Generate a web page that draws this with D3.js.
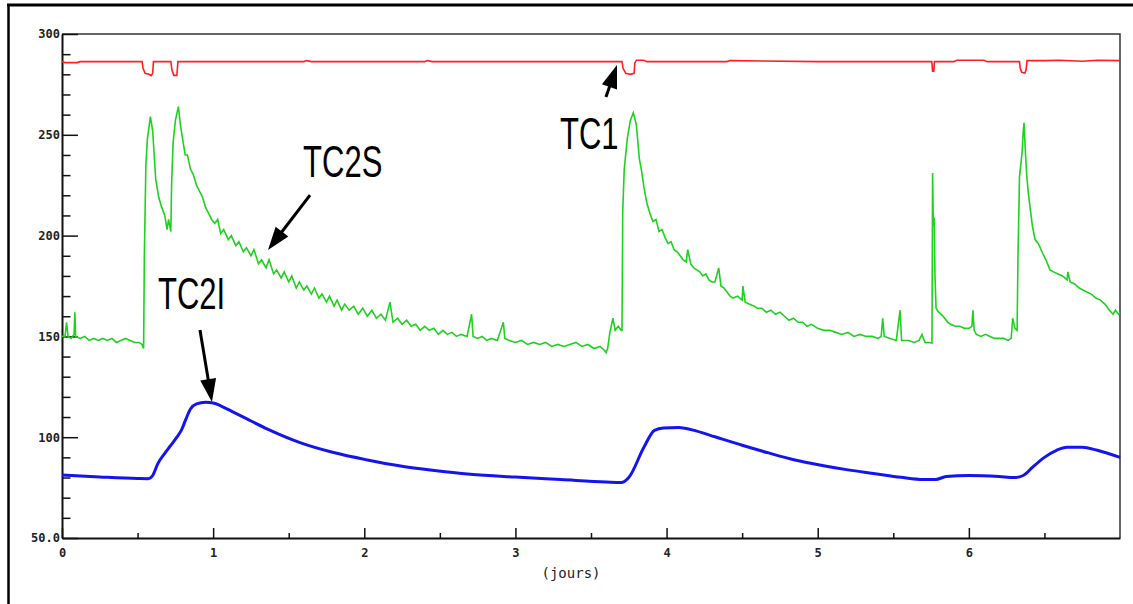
<!DOCTYPE html>
<html>
<head>
<meta charset="utf-8">
<script src="https://cdn.jsdelivr.net/npm/d3@7"></script>
<style>
  body { margin: 0; background: #fff; }
  .tick text { font-family: "DejaVu Sans Mono", monospace; font-size: 12px; font-weight: bold; fill: #222; }
  .ann { font-family: "Liberation Sans", Arial, sans-serif; font-size: 31px; fill: #000; }
</style>
</head>
<body>
<div id="main"></div>
<script>
// TC1 (red): [day, value]
var tc1 = [[0,286.3],[0.02,285.8],[0.1,285.8],[0.12,286.3],[0.5,286.3],[0.53,286.3],[0.536,283],[0.55,280.5],[0.575,280],[0.59,279.3],[0.6,280.5],[0.605,286.3],
  [0.72,286.3],[0.728,282],[0.74,279.5],[0.76,279.5],[0.767,286.3],[1.6,286.3],[1.62,286.8],[1.65,286.3],[2.4,286.3],[2.42,286.8],[2.45,286.3],
  [3.705,286.3],[3.712,283],[3.73,280.5],[3.76,280],[3.785,280.5],[3.79,285.5],[3.8,287],[3.85,287],[3.87,286.3],[4.4,286.3],[4.42,286.8],[5.0,286.3],
  [5.755,286.3],[5.76,281.5],[5.768,281.5],[5.772,286.3],[5.9,286.3],[5.92,287],[6.1,287],[6.12,286.3],[6.335,286.3],[6.34,283],[6.35,281],[6.37,280.6],[6.378,282],[6.385,286.8],
  [6.5,286.8],[6.6,287],[6.75,286.5],[6.85,287],[7.0,286.8]];

// TC2S (green)
var tc2s = [[0,150],[0.02,150],[0.03,157],[0.04,150],[0.06,149],[0.08,151],[0.085,162],[0.09,150],[0.12,149],[0.15,150],[0.18,148],[0.21,149],[0.24,148],[0.27,149],[0.3,148],[0.33,149],[0.36,147],[0.39,148],[0.42,149],[0.45,148],[0.48,147],[0.51,147],[0.53,146],[0.54,144],
  [0.545,191],[0.555,235],[0.565,248],[0.585,259],[0.6,252],[0.61,240],[0.62,228],[0.64,219],[0.66,214],[0.68,210],[0.695,203],[0.705,208],[0.72,202],[0.725,225],[0.735,246],[0.75,257],[0.77,264],[0.785,254],[0.8,247],[0.815,240],[0.83,240],[0.85,233],[0.87,230],[0.89,225],[0.91,222],[0.93,219],[0.95,214],[0.97,211],[0.99,208],[1.01,206],[1.03,208],[1.05,201],[1.07,203],[1.1,198],[1.12,200],[1.15,195],[1.17,197],[1.2,192],[1.22,194],[1.25,190],[1.27,193],[1.3,186],[1.32,188],[1.35,184],[1.37,188],[1.4,181],[1.42,183],[1.45,179],[1.47,182],[1.5,177],[1.52,180],[1.55,174],[1.57,177],[1.6,173],[1.62,175],[1.65,171],[1.67,174],[1.7,169],[1.72,171],[1.75,167],[1.77,170],[1.8,165],[1.82,168],[1.85,163],[1.87,166],[1.9,163],[1.93,165],[1.96,161],[1.99,164],[2.02,160],[2.05,163],[2.08,159],[2.11,161],[2.14,158],[2.17,167],[2.19,157],[2.22,159],[2.25,156],[2.28,158],[2.31,155],[2.34,156],[2.37,153],[2.4,155],[2.43,153],[2.46,154],[2.49,151],[2.52,153],[2.55,151],[2.58,152],[2.61,150],[2.64,151],[2.68,150],[2.71,161],[2.72,150],[2.75,149],[2.78,150],[2.81,148],[2.84,149],[2.88,148],[2.92,157],[2.93,149],[2.96,148],[3.0,147],[3.04,148],[3.08,146],[3.12,147],[3.16,146],[3.2,147],[3.24,145],[3.28,146],[3.32,145],[3.36,146],[3.4,147],[3.44,145],[3.48,146],[3.52,144],[3.56,145],[3.59,143],[3.6,142],[3.61,144],[3.625,152],[3.645,159],[3.66,153],[3.68,155],[3.7,153],[3.705,153],
  [3.71,212],[3.72,233],[3.74,248],[3.76,257],[3.78,261],[3.8,255],[3.82,238],[3.835,232],[3.85,224],[3.87,216],[3.89,211],[3.91,207],[3.93,208],[3.95,202],[3.97,203],[3.99,199],[4.01,196],[4.03,197],[4.05,193],[4.07,192],[4.09,190],[4.11,188],[4.13,187],[4.14,193],[4.16,186],[4.18,184],[4.2,183],[4.22,182],[4.24,180],[4.26,181],[4.28,178],[4.3,177],[4.32,177],[4.345,184],[4.36,175],[4.38,174],[4.4,172],[4.42,170],[4.44,169],[4.47,170],[4.5,168],[4.505,175],[4.52,167],[4.55,166],[4.58,165],[4.6,164],[4.63,164],[4.66,162],[4.69,163],[4.72,161],[4.75,162],[4.78,160],[4.81,158],[4.84,159],[4.87,157],[4.9,157],[4.93,155],[4.96,156],[5.0,154],[5.04,153],[5.08,153],[5.12,152],[5.16,151],[5.2,152],[5.24,150],[5.28,151],[5.32,150],[5.36,150],[5.4,149],[5.42,150],[5.43,159],[5.44,150],[5.48,149],[5.52,148],[5.545,163],[5.555,148],[5.6,148],[5.64,147],[5.67,148],[5.69,151],[5.71,147],[5.74,147],[5.756,146.7],
  [5.76,231],[5.765,205],[5.77,209],[5.776,180],[5.783,164],[5.8,162],[5.83,160],[5.86,157],[5.88,156],[5.91,155],[5.94,155],[5.97,154],[6.0,154],[6.02,155],[6.027,163],[6.035,153],[6.05,151],[6.08,150],[6.11,151],[6.14,150],[6.17,149],[6.2,149],[6.23,149],[6.26,148],[6.28,149],[6.29,159],[6.305,154],[6.319,153],[6.325,189],[6.335,229],[6.352,241],[6.36,252],[6.365,256],[6.375,240],[6.385,228],[6.395,220],[6.405,214],[6.42,205],[6.438,198],[6.46,196],[6.49,191],[6.51,188],[6.537,183],[6.56,182],[6.59,181],[6.62,180],[6.65,178],[6.655,182],[6.67,177],[6.7,176],[6.73,174],[6.755,173],[6.78,172],[6.81,171],[6.84,169],[6.87,168],[6.9,166],[6.93,163],[6.954,161],[6.97,163],[6.99,161],[7.0,162]];

// TC2I (blue)
var tc2i = [[0,81.3],[0.25,80.3],[0.5,79.5],[0.57,79.4],[0.6,81],[0.635,87],[0.68,92],[0.715,95.5],[0.76,100],[0.79,103.5],[0.82,109],[0.85,114],[0.89,116.5],[0.95,117.3],[1.0,117],
  [1.06,115.2],[1.13,112.6],[1.22,109.2],[1.36,104],[1.575,97.3],[1.79,92.5],[2.02,88.7],[2.24,85.7],[2.45,83.6],[2.7,81.6],[3.0,80.2],[3.3,79],[3.6,77.8],[3.7,77.5],
  [3.75,80],[3.85,95],[3.92,103.4],[3.98,104.6],[4.08,104.8],[4.2,103],[4.32,100.2],[4.5,96],[4.675,92.2],[4.85,88.7],[5.03,86],[5.2,83.8],[5.38,81.9],[5.55,80.1],[5.7,79],[5.78,79],
  [5.85,80.5],[6.0,81],[6.2,80.5],[6.3,80],[6.36,81],[6.42,85],[6.5,90],[6.58,93.5],[6.65,95],[6.75,95],[6.85,93.5],[7.0,90]];

var xMajor = [0, 1, 2, 3, 4, 5, 6];
var xMinor = [0.5, 1.5, 2.5, 3.5, 4.5, 5.5, 6.5];
var yMajor = [50, 100, 150, 200, 250, 300];
var yLabels = ["50.0", "100", "150", "200", "250", "300"];
var yMinor = d3.range(60, 300, 10).filter(function(v) { return v % 50 != 0; });

var W = 1133, H = 604;
var svg = d3.select("#main").append("svg")
    .attr("width", W).attr("height", H)
    .style("display", "block");

svg.append("rect").attr("width", W).attr("height", H).attr("fill", "#fff");

// outer frame (top and left only)
svg.append("line").attr("x1", 7).attr("x2", W).attr("y1", 5).attr("y2", 5)
    .attr("stroke", "#000").attr("stroke-width", 3);
svg.append("line").attr("x1", 8.5).attr("x2", 8.5).attr("y1", 4).attr("y2", H)
    .attr("stroke", "#000").attr("stroke-width", 2.5);

var x = d3.scaleLinear().domain([0, 7]).range([62, 1120]);
var y = d3.scaleLinear().domain([50, 300]).range([538, 34]);

// plot frame top / right
svg.append("path")
    .attr("d", "M" + x(0) + "," + y(300) + "H" + x(7) + "V" + y(50))
    .attr("fill", "none").attr("stroke", "#333").attr("stroke-width", 1.5);

// x axis
var gx = svg.append("g").attr("transform", "translate(0," + y(50) + ")");
gx.call(d3.axisBottom(x).tickValues(xMajor).tickFormat(d3.format("d"))
    .tickSize(-10).tickSizeOuter(0).tickPadding(10));
gx.append("g").call(d3.axisBottom(x).tickValues(xMinor).tickFormat("")
    .tickSize(-5).tickSizeOuter(0))
  .select(".domain").remove();
gx.selectAll(".domain").attr("stroke", "#111").attr("stroke-width", 2);
gx.selectAll(".tick line").attr("stroke", "#111").attr("stroke-width", 1.5);

// y axis
var gy = svg.append("g").attr("transform", "translate(" + x(0) + ",0)");
gy.call(d3.axisLeft(y).tickValues(yMajor)
    .tickFormat(function(d, i) { return yLabels[i]; })
    .tickSize(-16).tickSizeOuter(0).tickPadding(2));
gy.append("g").call(d3.axisLeft(y).tickValues(yMinor).tickFormat("")
    .tickSize(-8.5).tickSizeOuter(0))
  .select(".domain").remove();
gy.selectAll(".domain").attr("stroke", "#111").attr("stroke-width", 2);
gy.selectAll(".tick line").attr("stroke", "#111").attr("stroke-width", 1.5);

svg.append("text")
    .attr("x", 571).attr("y", 578)
    .attr("text-anchor", "middle")
    .style("font-family", "'DejaVu Sans Mono', monospace")
    .style("font-size", "14px")
    .attr("fill", "#222")
    .text("(jours)");

// series
var line = d3.line()
    .x(function(d) { return x(d[0]); })
    .y(function(d) { return y(d[1]); });

svg.append("path").datum(tc1)
    .attr("d", line).attr("fill", "none")
    .attr("stroke", "#ff1f1f").attr("stroke-width", 1.6);

svg.append("path").datum(tc2s)
    .attr("d", line).attr("fill", "none")
    .attr("stroke", "#1ed21e").attr("stroke-width", 1.6);

svg.append("path").datum(tc2i)
    .attr("d", line.curve(d3.curveMonotoneX)).attr("fill", "none")
    .attr("stroke", "#1414f0").attr("stroke-width", 3);

// annotations: text position, arrow tail and tip in data units
var annotations = [
  {label: "TC1",  tx: 3.295, ty: 242.9, from: [3.599, 268.8], to: [3.672, 284.6]},
  {label: "TC2S", tx: 1.595, ty: 229.1, from: [1.641, 220.1], to: [1.363, 192.9]},
  {label: "TC2I", tx: 0.635, ty: 163.6, from: [0.913, 153.2], to: [0.992, 117.5]}
];

annotations.forEach(function(a) {
  svg.append("text").attr("class", "ann")
      .attr("transform", "translate(" + x(a.tx) + "," + y(a.ty) + ") scale(1,1.45)")
      .text(a.label);

  var x1 = x(a.from[0]), y1 = y(a.from[1]), x2 = x(a.to[0]), y2 = y(a.to[1]);
  var dx = x2 - x1, dy = y2 - y1, len = Math.sqrt(dx * dx + dy * dy);
  var ux = dx / len, uy = dy / len, hl = 23, hw = 8;
  var bx = x2 - ux * hl, by = y2 - uy * hl;
  svg.append("line")
      .attr("x1", x1).attr("y1", y1).attr("x2", bx + ux * 2).attr("y2", by + uy * 2)
      .attr("stroke", "#000").attr("stroke-width", 3);
  svg.append("path")
      .attr("d", "M" + x2 + "," + y2 +
                 "L" + (bx - uy * hw) + "," + (by + ux * hw) +
                 "L" + (bx + uy * hw) + "," + (by - ux * hw) + "Z")
      .attr("fill", "#000");
});
</script>
</body>
</html>
